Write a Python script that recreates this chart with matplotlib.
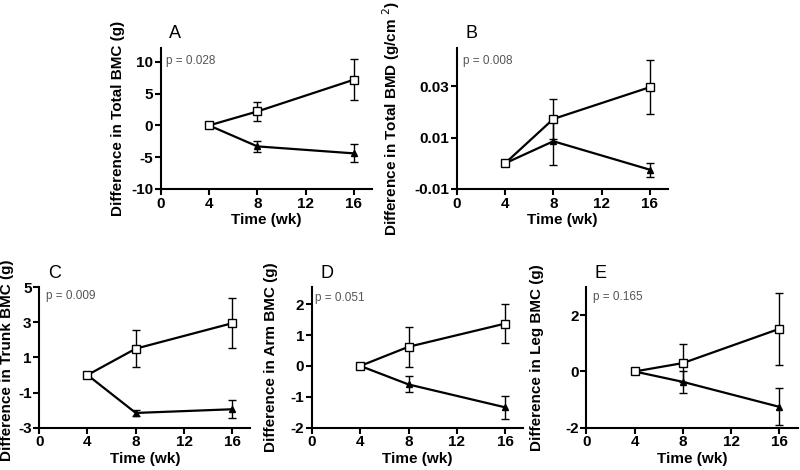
import matplotlib
matplotlib.use('Agg')
import matplotlib.pyplot as plt

plt.rcParams['font.family'] = ['Liberation Sans', 'DejaVu Sans']
plt.rcParams['axes.unicode_minus'] = False

weeks = [4, 8, 16]

panels = ['A', 'B', 'C', 'D', 'E']
ylabels = ['Difference in Total BMC (g)',
           'Difference in Total BMD (g/cm $^{2}$)',
           'Difference in Trunk BMC (g)',
           'Difference in Arm BMC (g)',
           'Difference in Leg BMC (g)']
pvalues = ['p = 0.028', 'p = 0.008', 'p = 0.009', 'p = 0.051', 'p = 0.165']

# open squares
open_mean = [[0, 2.2, 7.2], [0, 0.0173, 0.0297], [0, 1.5, 2.95], [0, 0.62, 1.37], [0, 0.3, 1.52]]
open_err = [[0, 1.5, 3.2], [0, 0.0078, 0.0105], [0, 1.04, 1.44], [0, 0.65, 0.62], [0, 0.68, 1.28]]
# filled triangles
fill_mean = [[0, -3.3, -4.4], [0, 0.0086, -0.0025], [0, -2.16, -1.95], [0, -0.6, -1.34], [0, -0.37, -1.26]]
fill_err = [[0, 0.9, 1.4], [0, 0.0093, 0.0028], [0, 0.15, 0.52], [0, 0.26, 0.38], [0, 0.4, 0.66]]

ylims = [(-10, 12.2), (-0.01, 0.045), (-3, 5), (-2, 2.55), (-2, 3)]
yticks = [[-10, -5, 0, 5, 10], [-0.01, 0.01, 0.03], [-3, -1, 1, 3, 5], [-2, -1, 0, 1, 2], [-2, 0, 2]]
ytick_labels = [None, ['-0.01', '0.01', '0.03'], None, None, None]

positions = [[0.201, 0.598, 0.264, 0.300],
             [0.571, 0.598, 0.264, 0.300],
             [0.049, 0.090, 0.264, 0.299],
             [0.390, 0.090, 0.264, 0.299],
             [0.733, 0.090, 0.264, 0.299]]
label_pos = [(-0.17, 0.5), (-0.26, 0.5), (-0.12, 0.48), (-0.16, 0.5), (-0.2, 0.5)]
ptext_pos = [(0.024, 0.91), (0.03, 0.91), (0.03, 0.94), (0.016, 0.92), (0.03, 0.93)]

fig = plt.figure(figsize=(8, 4.7), dpi=100)

for i in range(5):
    ax = fig.add_axes(positions[i])
    ax.errorbar(weeks, fill_mean[i], yerr=fill_err[i], color='black', marker='^',
                markersize=4, linewidth=1.6, capsize=3, elinewidth=1.0, capthick=1.0, zorder=3)
    ax.errorbar(weeks, open_mean[i], yerr=open_err[i], color='black', marker='s',
                markersize=5.5, markerfacecolor='white', markeredgecolor='black', markeredgewidth=1.0,
                linewidth=1.6, capsize=3, elinewidth=1.0, capthick=1.0, zorder=4)
    ax.set_xlim(0, 17.5)
    ax.set_ylim(*ylims[i])
    ax.set_xticks([0, 4, 8, 12, 16])
    ax.set_yticks(yticks[i])
    if ytick_labels[i] is not None:
        ax.set_yticklabels(ytick_labels[i])
    ax.spines['top'].set_visible(False)
    ax.spines['right'].set_visible(False)
    ax.spines['left'].set_linewidth(1.5)
    ax.spines['bottom'].set_linewidth(1.5)
    ax.tick_params(width=1.5, length=4, labelsize=11, pad=1.5)
    for lab in ax.get_xticklabels() + ax.get_yticklabels():
        lab.set_fontweight('bold')
    ax.set_xlabel('Time (wk)', fontsize=11, fontweight='bold', labelpad=2)
    ax.set_ylabel(ylabels[i], fontsize=11, fontweight='bold')
    ax.yaxis.set_label_coords(*label_pos[i])
    ax.text(0.04, 1.1, panels[i], transform=ax.transAxes, fontsize=13, va='center', ha='left')
    ax.text(ptext_pos[i][0], ptext_pos[i][1], pvalues[i], transform=ax.transAxes,
            fontsize=8.5, color='#555555', va='center', ha='left')

fig.savefig('out.png', dpi=100)
